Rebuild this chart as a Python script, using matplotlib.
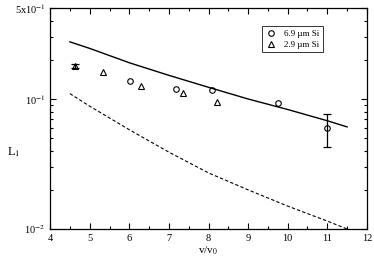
import numpy as np
import matplotlib
matplotlib.use("Agg")
import matplotlib.pyplot as plt
from matplotlib.ticker import FixedLocator, FixedFormatter, MultipleLocator, LogLocator, NullFormatter

plt.rcParams['font.family'] = ['Liberation Serif', 'DejaVu Serif']
plt.rcParams['mathtext.fontset'] = 'stix'

# ---- data
v_thick = [6.02, 7.18, 8.09, 9.76, 11.0]
L_thick = [0.137, 0.119, 0.117, 0.093, 0.0598]

v_thin = [4.62, 5.34, 6.30, 7.36, 8.22]
L_thin = [0.180, 0.161, 0.126, 0.111, 0.0948]

# points that carry error bars: (v, L, lower, upper)
err_v = [11.0, 4.62]
err_lo = [0.0427, 0.174]
err_hi = [0.0767, 0.187]
err_L = [0.0598, 0.180]

v_curve = [4.5, 5.0, 6.0, 7.0, 8.0, 9.0, 10.0, 11.0, 11.5]
L_solid = [0.275, 0.245, 0.190, 0.152, 0.123, 0.100, 0.083, 0.068, 0.061]
L_dashed = [0.110, 0.088, 0.058, 0.039, 0.027, 0.020, 0.015, 0.0115, 0.010]

fig = plt.figure(figsize=(3.74, 2.62), dpi=100)
ax = fig.add_axes([0.134, 0.126, 0.847, 0.843])

ax.plot(v_curve, L_solid, '-', color='black', lw=1.0)
ax.plot(v_curve, L_dashed, '--', color='black', lw=0.8, dashes=(3, 2))

ax.plot(v_thick, L_thick, 'o', mfc='none', mec='black', ms=4, mew=0.8,
        label=u'6.9 \u00b5m Si')
ax.plot(v_thin, L_thin, '^', mfc='none', mec='black', ms=4, mew=0.8,
        label=u'2.9 \u00b5m Si')

yerr = [np.array(err_L) - np.array(err_lo), np.array(err_hi) - np.array(err_L)]
ax.errorbar(err_v, err_L, yerr=yerr, fmt='none', ecolor='black',
            elinewidth=0.9, capsize=3, capthick=0.9)

ax.set_yscale('log')
ax.set_xlim(4, 12)
ax.set_ylim(0.01, 0.5)

ax.xaxis.set_major_locator(MultipleLocator(1))
ax.xaxis.set_minor_locator(MultipleLocator(0.5))
ax.yaxis.set_major_locator(FixedLocator([0.01, 0.1, 0.5]))
ax.yaxis.set_major_formatter(FixedFormatter([r'10$^{-2}$', r'10$^{-1}$', r'5x10$^{-1}$']))
ax.yaxis.set_minor_locator(LogLocator(base=10, subs=np.arange(2, 10)))
ax.yaxis.set_minor_formatter(NullFormatter())

ax.tick_params(which='both', direction='in', top=True, right=True, labelsize=7.5, width=0.8)
ax.tick_params(which='major', length=4)
ax.tick_params(which='minor', length=2.5)
for s in ax.spines.values():
    s.set_linewidth(0.9)

ax.set_xlabel(r'v/v$_0$', fontsize=8, labelpad=1)
ax.set_ylabel(r'L$_1$', fontsize=9, rotation=0, va='center', ha='center')
ax.yaxis.set_label_coords(-0.115, 0.35)

leg = ax.legend(loc='upper left', bbox_to_anchor=(0.655, 0.94), fontsize=6.5,
                frameon=True, fancybox=False, edgecolor='black', handlelength=1.2,
                handletextpad=0.8, borderpad=0.4, labelspacing=0.3, numpoints=1)
leg.get_frame().set_linewidth(0.7)

fig.savefig('out.png', dpi=100)
